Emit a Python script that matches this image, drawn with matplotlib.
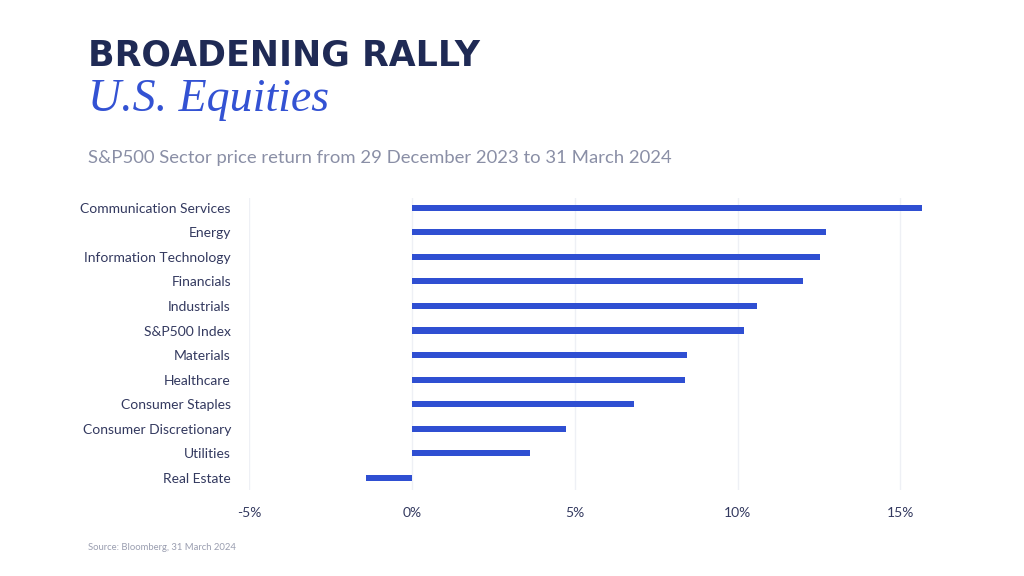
import matplotlib.pyplot as plt
import numpy as np

sectors = ['Communication Services', 'Energy', 'Information Technology',
           'Financials', 'Industrials', 'S&P500 Index', 'Materials',
           'Healthcare', 'Consumer Staples', 'Consumer Discretionary',
           'Utilities', 'Real Estate']
returns = [15.67, 12.70, 12.52, 12.01, 10.60, 10.19, 8.44, 8.40,
           6.81, 4.72, 3.62, -1.42]
xticks = [-5, 0, 5, 10, 15]

navy = '#1f2a55'
label_col = '#33395f'
blue = '#2f4fd2'

plt.rcParams['font.family'] = ['Lato', 'DejaVu Sans']

fig = plt.figure(figsize=(10.24, 5.76), dpi=100)
ax = fig.add_axes([249/1024, 1-490/576, (933-249)/1024, 292/576])

y = np.arange(len(sectors))
ax.barh(y, returns, height=0.25, color=blue, zorder=3)
ax.set_ylim(len(sectors) - 0.5, -0.4)
ax.set_xlim(-5, 16)
ax.set_yticks(y)
ax.set_yticklabels(sectors, fontsize=10, color=label_col)
ax.set_xticks(xticks)
ax.set_xticklabels([f'{v}%' for v in xticks], fontsize=10, color=label_col)
ax.tick_params(length=0)
ax.tick_params(axis='y', pad=13)
ax.tick_params(axis='x', pad=12)
ax.grid(axis='x', color='#eef0f5', lw=1, zorder=0)
for s in ax.spines.values():
    s.set_visible(False)

fig.text(88/1024, 1-55/576, 'BROADENING RALLY', fontsize=25, fontweight='bold',
         family='DejaVu Sans', color=navy, va='center', ha='left')
fig.text(88/1024, 1-100/576, 'U.S. Equities', fontsize=33, style='italic',
         family='Liberation Serif', color='#3352d3', va='center', ha='left')
fig.text(88/1024, 1-158/576, 'S&P500 Sector price return from 29 December 2023 to 31 March 2024',
         fontsize=13.3, color='#8a8fa6', va='center', ha='left')
fig.text(88/1024, 1-547/576, 'Source: Bloomberg, 31 March 2024', fontsize=6.8,
         color='#9a9eb0', va='center', ha='left')

fig.savefig('out.png', dpi=100, facecolor='white')
